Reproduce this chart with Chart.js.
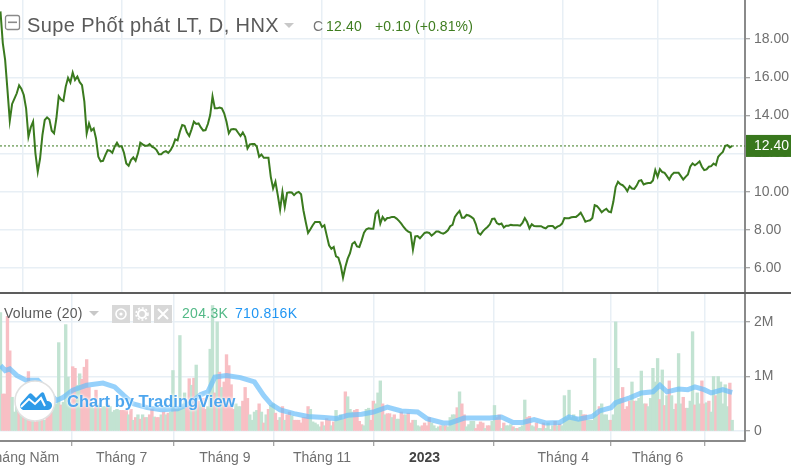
<!DOCTYPE html>
<html>
<head>
<meta charset="utf-8">
<title>Supe Phốt phát LT</title>
<script src="https://cdn.jsdelivr.net/npm/chart.js@4"></script>
<style>
    html, body { margin: 0; padding: 0; background: #fff; overflow: hidden; }
    #wrap { position: relative; width: 791px; height: 467px; overflow: hidden; font-family: "Liberation Sans", sans-serif; }
    #priceBox { position: absolute; left: 0; top: 0; width: 791px; height: 293px; }
    #volumeBox { position: absolute; left: 0; top: 294px; width: 791px; height: 173px; }
    #divider { position: absolute; left: 0; top: 292px; width: 791px; height: 2px; background: #5d5d5d; }
    .txt { position: absolute; white-space: nowrap; }
    #title { left: 27px; top: 14px; font-size: 20px; letter-spacing: 0.4px; color: #5a5a5a; }
    .caret { position: absolute; width: 0; height: 0; border-left: 5px solid transparent; border-right: 5px solid transparent; border-top: 5px solid #c8c8c8; }
    .ind { position: absolute; top: 305px; width: 18px; height: 18px; background: #d8d8d8; }
    #logoText { left: 67px; top: 392px; font-size: 16.5px; font-weight: bold; letter-spacing: 0; color: #4ea6ee; text-shadow: 0 0 3px #fff, 0 0 3px #fff; }
</style>
</head>
<body>
<div id="wrap">
    <div id="priceBox"><canvas id="priceChart"></canvas></div>
    <div id="volumeBox"><canvas id="volumeChart"></canvas></div>
    <div id="divider"></div>

    <!-- legend of the price pane -->
    <svg style="position:absolute;left:4px;top:14px" width="17" height="17"><rect x="1.5" y="1.5" width="14" height="14" rx="2" fill="#fff" stroke="#8a8a8a" stroke-width="1.3"/><rect x="4" y="7.5" width="9" height="1.6" fill="#8a8a8a"/></svg>
    <div class="txt" id="title">Supe Phốt phát LT, D, HNX</div>
    <div class="caret" style="left:284px;top:23px"></div>
    <div class="txt" style="left:313px;top:18px;font-size:14px;color:#777">C</div>
    <div class="txt" style="left:326px;top:18px;font-size:14px;letter-spacing:0.2px;color:#3f7d20">12.40</div>
    <div class="txt" style="left:375px;top:18px;font-size:14px;letter-spacing:0.1px;color:#3f7d20">+0.10 (+0.81%)</div>

    <!-- legend of the volume pane -->
    <div class="txt" style="left:4px;top:305px;font-size:14px;letter-spacing:0.3px;color:#5a5a5a">Volume (20)</div>
    <div class="caret" style="left:89px;top:311px"></div>
    <div class="ind" style="left:112px"><svg width="18" height="18"><circle cx="9" cy="9" r="5" fill="none" stroke="#fff" stroke-width="1.6"/><circle cx="9" cy="9" r="1.6" fill="#fff"/></svg></div>
    <div class="ind" style="left:133px"><svg width="18" height="18"><circle cx="9" cy="9" r="4" fill="none" stroke="#fff" stroke-width="2.2"/><circle cx="9" cy="9" r="6" fill="none" stroke="#fff" stroke-width="1.6" stroke-dasharray="2 1.9"/></svg></div>
    <div class="ind" style="left:154px"><svg width="18" height="18"><path d="M4 4L14 14M14 4L4 14" stroke="#fff" stroke-width="2"/></svg></div>
    <div class="txt" style="left:182px;top:305px;font-size:14px;letter-spacing:0.3px;color:#53b987">204.3K</div>
    <div class="txt" style="left:235px;top:305px;font-size:14px;letter-spacing:0.3px;color:#2196f3">710.816K</div>

    <!-- watermark -->
    <svg style="position:absolute;left:14px;top:380px" width="42" height="42"><circle cx="21" cy="21" r="20" fill="#fff" stroke="#e0e0e0" stroke-width="1.5"/><path d="M7 23 L15 14 Q16.5 12.5 18 14 L22 18 L27 13 Q28.5 11.5 30 13 L33 21 a4.5 4.5 0 0 1 1 9 H9 a4.5 4.5 0 0 1 -2 -7 Z" fill="#2f9be8"/><path d="M7 27 L15 19 L21 24 L27 18 L31 26" fill="none" stroke="#fff" stroke-width="2"/></svg>
    <div class="txt" id="logoText">Chart by TradingView</div>
</div>

<script>
    // Bar numbers where the time axis has a label
    const timeTickBars = [9.5, 52, 96.3, 138, 182, 241.5, 282];
    const timeTickLabels = ['Tháng Năm', 'Tháng 7', 'Tháng 9', 'Tháng 11', '2023', 'Tháng 4', 'Tháng 6'];
    const priceTicks = [6, 8, 10, 12, 14, 16, 18];
    const volumeTicks = [0, 1, 2];
    const lastPrice = 12.40;

    // Daily close, one value per bar
    const closes = [
        19.45,17.79,16.91,15.34,13.72,14.60,14.88,15.16,15.58,15.39,
        15.07,14.37,12.88,13.37,13.67,12.01,11.04,11.74,12.97,13.76,
        13.90,13.79,13.20,13.06,13.85,15.00,14.83,14.76,15.51,15.97,
        15.72,16.25,15.86,16.04,15.74,15.58,14.72,13.06,13.58,13.20,
        13.32,12.79,11.83,11.59,11.62,11.92,12.18,12.15,12.04,12.36,
        12.57,12.36,12.39,12.04,11.48,11.36,11.66,11.80,11.62,12.01,
        12.57,12.48,12.41,12.41,12.50,12.36,12.30,12.18,11.97,11.97,
        12.08,12.13,12.04,12.18,12.41,12.74,12.69,13.15,13.50,13.46,
        13.11,12.92,13.27,13.67,13.55,13.58,13.37,13.20,13.23,13.55,
        14.02,15.00,14.37,14.37,14.41,14.37,14.11,13.67,13.06,13.27,
        13.29,13.27,13.09,12.92,13.11,12.88,12.27,12.48,12.50,12.50,
        12.36,11.83,11.95,11.78,11.78,11.78,10.78,10.17,10.52,9.82,
        9.06,9.99,9.20,9.94,9.97,9.96,9.82,9.94,9.99,9.87,
        9.03,8.41,7.84,8.03,8.24,8.41,8.41,8.41,8.15,8.24,
        7.71,7.19,7.01,7.10,6.61,6.54,6.14,5.49,6.05,6.49,
        6.78,7.27,7.36,7.13,7.10,7.45,7.85,8.03,8.08,8.06,
        8.06,8.85,8.99,8.33,8.68,8.50,8.62,8.64,8.68,8.68,
        8.59,8.47,8.33,8.15,8.01,7.91,7.85,6.96,7.66,7.68,
        7.56,7.70,7.84,7.87,7.84,7.70,7.80,7.91,7.91,7.84,
        7.80,7.87,7.98,8.19,8.26,8.68,8.85,8.99,8.64,8.64,
        8.78,8.75,8.68,8.59,8.29,7.84,7.75,7.92,8.05,8.15,
        8.29,8.57,8.59,8.36,8.29,8.33,8.12,8.22,8.22,8.26,
        8.24,8.24,8.24,8.22,8.36,8.62,8.41,8.08,8.29,8.20,
        8.19,8.19,8.19,8.12,8.08,8.19,8.20,8.20,8.08,8.17,
        8.22,8.33,8.62,8.61,8.61,8.66,8.68,8.68,8.78,8.90,
        8.68,8.43,8.47,8.50,8.62,9.29,9.24,9.10,8.92,9.03,
        9.10,8.96,8.92,9.47,10.25,10.52,10.39,10.34,10.22,10.03,
        10.29,10.17,10.15,10.32,10.57,10.60,10.38,10.43,10.46,10.46,
        10.59,11.13,10.78,11.18,11.03,10.99,10.82,10.64,10.87,10.99,
        10.99,10.99,10.82,10.64,10.78,10.90,11.31,11.48,11.39,11.48,
        11.59,11.31,11.13,11.17,11.31,11.34,11.48,11.39,11.83,11.97,
        12.09,12.41,12.44,12.32,12.40
    ];

    // Daily volume in millions, one value per bar
    const volumes = [
        2.17,.68,.68,2.1,1.47,.62,.35,.56,.5,.5,
        .4,.5,1.09,.53,.45,.17,.45,.6,.35,.2,
        .35,.35,.35,.45,.5,1.62,.48,.53,1.95,.99,
        .53,1.18,1.15,.84,1.05,.95,1.17,1.31,.8,.5,
        .42,.75,.5,.42,.45,.45,.5,.45,.35,.38,
        .4,.38,.38,.38,.38,.3,.4,.2,.25,.3,
        .22,.3,.25,.25,.3,.4,.26,.25,.25,.3,
        .35,.3,.33,.35,1.11,.4,.4,1.75,.5,.7,
        .55,.96,.84,.97,1.21,.55,.5,.6,.4,.45,
        1.5,2.3,.7,2.0,1.08,.8,.9,1.4,1.2,.85,
        .4,.5,.45,.45,.55,.8,.6,.3,.2,.35,
        .38,.5,.35,.15,.3,.4,.47,.5,.33,.2,
        .25,.45,.2,.3,.35,.28,.2,.2,.2,.15,
        .25,.25,.45,.4,.17,.15,.12,.08,.17,.1,
        .23,.2,.1,.17,.38,.25,.3,.22,.72,.63,
        .4,.35,.38,.4,.18,.12,.1,.4,.42,.2,
        .55,.5,.7,.92,.5,.3,.32,.32,.25,.3,
        .22,.22,.35,.3,.3,.33,.15,.2,.2,.1,
        .08,.1,.15,.1,.25,.15,.1,.05,.08,.1,
        .1,.1,.08,.25,.3,.3,.43,.72,.5,.3,
        .08,.12,.18,.18,.05,.12,.17,.15,.05,.1,
        .1,.18,.47,.25,.3,.05,.15,.1,.1,.12,
        .08,.05,.05,.07,.1,.57,.25,.27,.1,.08,
        .15,.05,.05,.15,.05,.15,.03,.1,.18,.1,
        .13,.1,.65,.25,.75,.25,.3,.25,.2,.38,
        .3,.3,.2,.2,.2,1.33,.3,.45,.5,.3,
        .3,.2,.2,.3,2.0,1.15,.6,.8,.4,.45,
        .55,.9,.55,.55,.6,1.1,.5,.5,.45,.6,
        1.15,.9,1.33,.58,1.12,.47,.65,.92,.65,.4,
        .5,1.42,.5,.62,.42,.42,.55,1.82,.48,.7,
        .5,.92,.5,.52,.55,.35,1.0,.65,1.0,.9,
        .5,.85,.45,.88,.2
    ];

    // Bars whose volume column is red, the rest are green
    const redBars = [
        1,2,3,4,8,10,12,13,15,16,18,20,21,22,26,31,32,35,36,37,38,41,43,46,52,53,54,56,58,60,62,64,65,67,68,70,72,75,
        80,81,83,85,87,88,92,94,96,97,98,99,100,104,105,106,111,113,115,118,119,121,123,124,126,127,128,129,130,131,132,
        138,140,141,143,148,152,153,154,155,159,160,164,166,167,169,172,173,175,176,177,181,182,183,184,189,191,196,198,199,
        204,205,206,207,209,210,213,214,216,220,222,226,227,230,233,238,240,250,251,257,262,267,268,269,270,272,277,283,
        285,287,290,293,294,298,301,302,304,307,313
    ];

    // Volume moving average, read at its bends
    const maBars = [0,2,4,7,11,16,19,24,27,31,37,44,49,53,57,63,69,76,81,86,89,92,97,103,109,113,116,120,126,132,139,144,149,155,160,166,172,179,183,190,193,199,210,215,220,224,229,234,240,244,248,254,257,262,264,270,275,280,283,286,291,295,298,302,305,310,313,314];
    const maValues = [1.2,1.11,1.14,1.02,.93,.93,.8,.56,.62,.75,.84,.88,.81,.65,.5,.43,.39,.41,.5,.67,.72,.99,1.02,.98,.9,.65,.5,.39,.32,.27,.25,.23,.29,.31,.35,.44,.37,.35,.23,.15,.15,.24,.24,.26,.16,.16,.21,.15,.16,.26,.22,.27,.37,.43,.52,.61,.7,.72,.84,.72,.77,.76,.81,.76,.7,.76,.72,.71];

    const GRID = '#e8eff5';
    const AXIS = '#8a8a8a';
    const TICK_TEXT = '#6f6f6f';
    const FONT = '"Liberation Sans", sans-serif';
    const X_MIN = -0.2;
    const X_MAX = 319.5;

    function isYearTick(ctx) {
        return ctx.tick && timeTickLabels[timeTickBars.indexOf(ctx.tick.value)] === '2023';
    }

    // x axis options shared by both panes
    function timeAxis(showLabels) {
        return {
            type: 'linear',
            offset: false,
            min: X_MIN,
            max: X_MAX,
            afterBuildTicks: function(scale) {
                scale.ticks = timeTickBars.map(v => ({ value: v }));
            },
            afterFit: function(scale) {
                scale.height = showLabels ? 26 : 0;
                scale.paddingLeft = 0;
                scale.paddingRight = 0;
            },
            border: { display: showLabels, color: AXIS, width: 2 },
            grid: {
                color: GRID,
                lineWidth: 1.5,
                drawTicks: showLabels,
                tickLength: 5,
                tickColor: AXIS,
                tickWidth: 1
            },
            ticks: {
                display: showLabels,
                autoSkip: false,
                maxRotation: 0,
                padding: 4,
                color: function(ctx) {
                    return isYearTick(ctx) ? '#444' : TICK_TEXT;
                },
                font: function(ctx) {
                    return { family: FONT, size: 14, weight: isYearTick(ctx) ? 'bold' : 'normal' };
                },
                callback: function(value) {
                    return timeTickLabels[timeTickBars.indexOf(value)];
                }
            }
        };
    }

    // y axis options shared by both panes
    function valueAxis(min, max, tickValues, format) {
        return {
            position: 'right',
            min: min,
            max: max,
            afterBuildTicks: function(scale) {
                scale.ticks = tickValues.map(v => ({ value: v }));
            },
            afterFit: function(scale) {
                scale.width = 46;
                scale.paddingTop = 0;
                scale.paddingBottom = 0;
            },
            border: { display: true, color: AXIS, width: 2 },
            grid: { color: GRID, lineWidth: 1.5, tickColor: AXIS, tickWidth: 1, tickLength: 5 },
            ticks: {
                color: TICK_TEXT,
                padding: 4,
                font: { family: FONT, size: 14 },
                callback: format
            }
        };
    }

    // Green tag with the last price on the right axis
    const lastPriceTag = {
        id: 'lastPriceTag',
        afterDraw: function(chart) {
            const ctx = chart.ctx;
            const y = chart.scales.y.getPixelForValue(lastPrice);
            ctx.save();
            ctx.fillStyle = '#38771d';
            ctx.fillRect(chart.chartArea.right + 1, y - 11, 46, 22);
            ctx.fillStyle = '#fff';
            ctx.font = '14px ' + FONT;
            ctx.textBaseline = 'middle';
            ctx.fillText(lastPrice.toFixed(2), chart.chartArea.right + 9, y + 0.5);
            ctx.restore();
        }
    };

    new Chart(document.getElementById('priceChart'), {
        type: 'line',
        data: {
            datasets: [
                {
                    data: closes.map((v, i) => ({ x: i, y: v })),
                    borderColor: '#3a7a1e',
                    borderWidth: 2,
                    pointRadius: 0,
                    tension: 0
                },
                {
                    data: [{ x: X_MIN, y: lastPrice }, { x: X_MAX, y: lastPrice }],
                    borderColor: '#3a7a1e',
                    borderWidth: 1,
                    borderDash: [2, 2],
                    pointRadius: 0
                }
            ]
        },
        options: {
            responsive: true,
            maintainAspectRatio: false,
            animation: false,
            layout: { padding: 0, autoPadding: false },
            plugins: { legend: { display: false }, tooltip: { enabled: false } },
            scales: {
                x: timeAxis(false),
                y: valueAxis(4.69, 20.05, priceTicks, v => v.toFixed(2))
            }
        },
        plugins: [lastPriceTag]
    });

    new Chart(document.getElementById('volumeChart'), {
        data: {
            datasets: [
                {
                    type: 'line',
                    data: maBars.map((b, i) => ({ x: b, y: maValues[i] })),
                    borderColor: 'rgba(105, 190, 250, 0.7)',
                    borderWidth: 5,
                    pointRadius: 0,
                    tension: 0,
                    order: 1
                },
                {
                    type: 'bar',
                    data: volumes.map((v, i) => ({ x: i, y: v })),
                    backgroundColor: volumes.map((v, i) => redBars.includes(i) ? '#f8bfc4' : '#c2e3d2'),
                    barThickness: 2.7,
                    order: 2
                }
            ]
        },
        options: {
            responsive: true,
            maintainAspectRatio: false,
            animation: false,
            layout: { padding: 0, autoPadding: false },
            plugins: { legend: { display: false }, tooltip: { enabled: false } },
            scales: {
                x: timeAxis(true),
                y: valueAxis(-0.18, 2.51, volumeTicks, v => v === 0 ? '0' : v + 'M')
            }
        }
    });
</script>
</body>
</html>
